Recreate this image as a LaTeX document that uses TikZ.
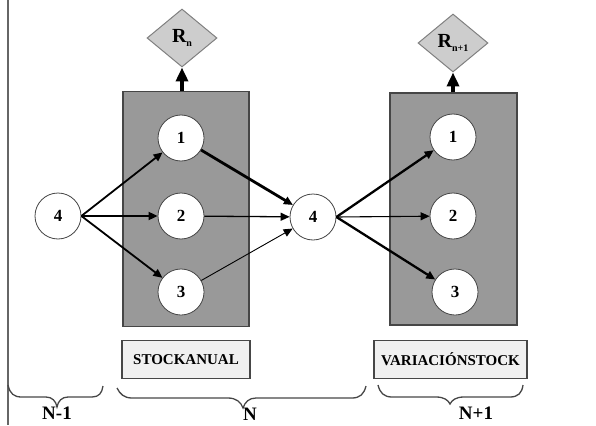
\documentclass[tikz,border=0pt]{standalone}
\usepackage{fontspec}
\setmainfont{Liberation Serif}
\usetikzlibrary{shapes.geometric,arrows.meta}
\definecolor{boxgray}{RGB}{153,153,153}
\definecolor{edgegray}{RGB}{70,70,70}
\definecolor{diagray}{RGB}{205,205,205}
\definecolor{labfill}{RGB}{240,240,240}
\tikzset{
  stage/.style={draw=edgegray,line width=1.3pt,fill=boxgray,minimum width=#1,minimum height=235pt,inner sep=0pt},
  state/.style={circle,draw=edgegray,line width=0.8pt,fill=white,minimum size=46pt,inner sep=0pt,font=\fontsize{17}{17}\selectfont\bfseries},
  result/.style={diamond,draw=gray,line width=1pt,fill=diagray,minimum width=70pt,minimum height=58pt,inner sep=0pt},
  tag/.style={draw=edgegray,line width=1.5pt,fill=labfill,minimum height=38pt,inner sep=0pt,font=\fontsize{15}{15}\selectfont\bfseries},
  flow/.style={-{Triangle[length=9pt,width=8pt]},line width=#1},
  flow/.default=1.8pt,
  up/.style={-{Triangle[length=14pt,width=12pt]},line width=4pt},
  brc/.style={draw=edgegray,line width=1.3pt},
  period/.style={font=\fontsize{19}{19}\selectfont\bfseries,inner sep=0pt}
}
\begin{document}
\begin{tikzpicture}[x=1pt,y=-1pt]
\useasboundingbox (0,0) rectangle (596,425);
\draw[line width=2.5pt,draw=gray!80!black] (8,0) -- (8,425);
% stage boxes
\node[stage=126pt] (box1) at (186,209) {};
\node[stage=127pt,minimum height=232pt] (box2) at (453.5,209) {};
% diamonds
\node[result] (r1) at (182,38) {{\fontsize{20}{20}\selectfont\bfseries R}\raisebox{-4pt}{\fontsize{10}{10}\selectfont\bfseries n}};
\node[result] (r2) at (453,43) {{\fontsize{20}{20}\selectfont\bfseries R}\raisebox{-4pt}{\fontsize{10}{10}\selectfont\bfseries n+1}};
\draw[up] (box1.north -| r1.south) -- (r1.south);
\draw[up] (box2.north -| r2.south) -- (r2.south);
% states
\node[state] (a4) at (58,216) {4};
\node[state] (b1) at (181,138) {1};
\node[state] (b2) at (181,216) {2};
\node[state] (b3) at (181,292) {3};
\node[state] (m4) at (313,217) {4};
\node[state] (c1) at (453,137) {1};
\node[state] (c2) at (453,216) {2};
\node[state] (c3) at (455,292) {3};
% flows
\draw[flow] (a4.east) -- (b1);
\draw[flow] (a4.east) -- (b2);
\draw[flow] (a4.east) -- (b3);
\draw[flow=2.8pt] (b1) -- (m4);
\draw[flow=1.3pt] (b2) -- (m4);
\draw[flow=0.9pt] (b3) -- (m4);
\draw[flow=2.3pt] (m4.east) -- (c1);
\draw[flow=1.1pt] (m4.east) -- (c2);
\draw[flow=2.3pt] (m4.east) -- (c3);
% tags
\node[tag,minimum width=128pt] (t1) at (186,359.5) {STOCKANUAL};
\node[tag,minimum width=153pt] (t2) at (450.5,359.5) {VARIACIÓNSTOCK};
% braces
\draw[brc] (8,385) .. controls (10,394) and (14,397) .. (22,397) -- (46,397) .. controls (52,397) and (56,401) .. (57,407) .. controls (58,401) and (62,397) .. (68,397) -- (92,397) .. controls (99,397) and (102,393) .. (103,386);
\draw[brc] (117,388) .. controls (120,394) and (124,398) .. (132,398) -- (228,398) .. controls (236,398) and (241,402) .. (243,408) .. controls (245,402) and (249,398) .. (256,398) -- (352,398) .. controls (360,398) and (364,394) .. (366,386);
\draw[brc] (378,385) .. controls (380,393) and (384,397) .. (392,397) -- (436,397) .. controls (444,397) and (448,400) .. (450,404) .. controls (452,400) and (456,397) .. (464,397) -- (510,397) .. controls (518,397) and (522,393) .. (523,385);
\node[period] (p1) at (57,413) {N-1};
\node[period] (p2) at (250,414) {N};
\node[period] (p3) at (476,413) {N+1};
\end{tikzpicture}
\end{document}
